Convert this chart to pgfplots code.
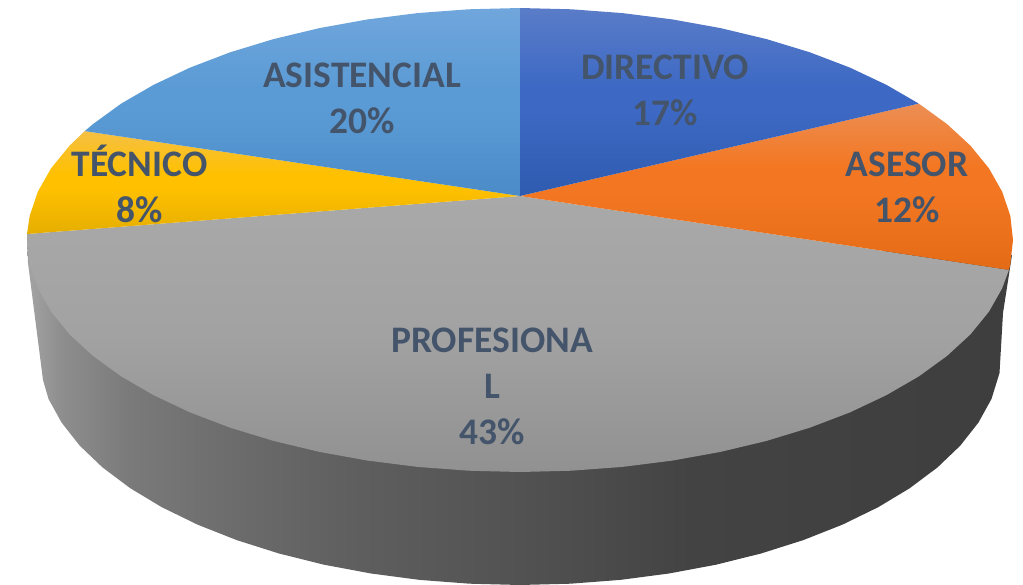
\documentclass[border=0pt]{standalone}
\usepackage{pgfplots}
\pgfplotsset{compat=1.18}
\usepackage{fontspec}
\setmainfont{Carlito}
\definecolor{lab}{HTML}{44546A}
\definecolor{c0}{HTML}{A4A4A4}
\definecolor{c6}{HTML}{8E8E8E}
\definecolor{c1}{HTML}{7A7A7A}
\definecolor{c7}{HTML}{6A6A6A}
\definecolor{c2}{HTML}{5F5F5F}
\definecolor{c3}{HTML}{525252}
\definecolor{c4}{HTML}{434343}
\definecolor{c5}{HTML}{3E3E3E}
\pgfdeclarehorizontalshading{sideg}{100bp}{
 color(0bp)=(c0);color(25bp)=(c0);color(26.7bp)=(c6);color(30.2bp)=(c1);color(36.3bp)=(c7);color(41.4bp)=(c2);color(50bp)=(c3);color(58.7bp)=(c4);color(75bp)=(c5);color(100bp)=(c5)}
\definecolor{gT}{HTML}{A9A9A9}\definecolor{gM}{HTML}{A2A2A2}\definecolor{gB}{HTML}{919191}
\definecolor{yT}{HTML}{F5C043}\definecolor{yM}{HTML}{FFC000}\definecolor{yB}{HTML}{E5AE00}
\definecolor{oT}{HTML}{EC8E54}\definecolor{oM}{HTML}{F37722}\definecolor{oB}{HTML}{E46B16}
\definecolor{lT}{HTML}{70A6DC}\definecolor{lM}{HTML}{5B9BD5}\definecolor{lB}{HTML}{4A8BC8}
\definecolor{bT}{HTML}{5A7CC8}\definecolor{bM}{HTML}{3D69C4}\definecolor{bB}{HTML}{2E5BAF}
\pgfdeclareverticalshading{gg}{100bp}{color(0bp)=(gB);color(25bp)=(gB);color(50bp)=(gM);color(75bp)=(gT);color(100bp)=(gT)}
\pgfdeclareverticalshading{yg}{100bp}{color(0bp)=(yB);color(25bp)=(yB);color(47bp)=(yM);color(54bp)=(yM);color(75bp)=(yT);color(100bp)=(yT)}
\pgfdeclareverticalshading{og}{100bp}{color(0bp)=(oB);color(25bp)=(oB);color(48bp)=(oM);color(56bp)=(oM);color(75bp)=(oT);color(100bp)=(oT)}
\pgfdeclareverticalshading{lg}{100bp}{color(0bp)=(lB);color(25bp)=(lB);color(48bp)=(lM);color(54bp)=(lM);color(75bp)=(lT);color(100bp)=(lT)}
\pgfdeclareverticalshading{bg}{100bp}{color(0bp)=(bB);color(25bp)=(bB);color(48bp)=(bM);color(54bp)=(bM);color(75bp)=(bT);color(100bp)=(bT)}
\tikzset{lbl/.style={font=\fontsize{37.6}{46.2}\selectfont\bfseries, text=lab, align=center, inner sep=0pt}}
\begin{document}
\begin{tikzpicture}
\begin{axis}[
  scale only axis, width=1023bp, height=585bp,
  xmin=0, xmax=1023, ymin=0, ymax=585, y dir=reverse,
  hide axis, clip=false,
]
% side wall
\addplot[draw=none, shading=sideg] coordinates {
(1012,255)(1003,313)(999.5,373)(991.5,398.9)(978.4,422.6)(960.3,445.6)(937.4,467.5)(909.9,488.1)(878.2,507.2)(842.5,524.6)(803.3,540.1)(761,553.5)(716,564.7)(668.9,573.5)(620.2,579.9)(570.4,583.7)(520,585)
(469.6,583.7)(419.8,579.9)(371.1,573.5)(324,564.7)(279,553.5)(236.7,540.1)(197.5,524.6)(161.8,507.2)(130.1,488.1)(102.6,467.5)(79.7,445.6)(61.6,422.6)(48.5,398.9)(43,380)(28,263)(27,238)(520,240)
} --cycle;
% PROFESIONAL
\addplot[draw=none, shading=gg] coordinates {
(520,196)(1008.9,269.9)(1002.2,288.2)(988.9,311.7)(970.4,334.4)(946.9,356)(918.8,376.4)(886.3,395.2)(849.9,412.4)(809.8,427.7)(766.5,440.9)(720.5,451.9)(672.3,460.6)(622.5,466.9)(571.5,470.7)(520,472)(468.5,470.7)(417.5,466.9)(367.7,460.6)(319.5,451.9)(273.5,440.9)(230.2,427.7)(190.1,412.4)(153.7,395.2)(121.2,376.4)(93.1,356)(69.6,334.4)(51.1,311.7)(37.8,288.2)(29.7,264.2)(27,234)
} --cycle;
% TECNICO
\addplot[draw=none, shading=yg] coordinates {
(520,196)(27,234)(29.7,215.8)(37.8,191.8)(51.1,168.3)(69.6,145.6)(84.7,131.1)
} --cycle;
% ASESOR
\addplot[draw=none, shading=og] coordinates {
(520,196)(918.8,103.6)(946.9,124)(970.4,145.6)(988.9,168.3)(1002.2,191.8)(1010.3,215.8)(1013,240)(1010.3,264.2)(1008.9,269.9)
} --cycle;
% ASISTENCIAL
\addplot[draw=none, shading=lg] coordinates {
(520,196)(84.7,131.1)(93.1,124)(121.2,103.6)(153.7,84.8)(190.1,67.6)(230.2,52.3)(273.5,39.1)(319.5,28.1)(367.7,19.4)(417.5,13.1)(468.5,9.3)(520,8)
} --cycle;
% DIRECTIVO
\addplot[draw=none, shading=bg] coordinates {
(520,196)(520,8)(571.5,9.3)(622.5,13.1)(672.3,19.4)(720.5,28.1)(766.5,39.1)(809.8,52.3)(849.9,67.6)(886.3,84.8)(918.8,103.6)
} --cycle;
\node[lbl] at (axis cs:665,90) {DIRECTIVO\\17\%};
\node[lbl] at (axis cs:907,187) {ASESOR\\12\%};
\node[lbl] at (axis cs:492,386) {PROFESIONA\\L\\43\%};
\node[lbl] at (axis cs:139.5,184) {TÉCNICO\\8\%};
\node[lbl] at (axis cs:362,98) {ASISTENCIAL\\20\%};
\end{axis}
\path (0,0) rectangle (1023bp,585bp);
\end{tikzpicture}
\end{document}
